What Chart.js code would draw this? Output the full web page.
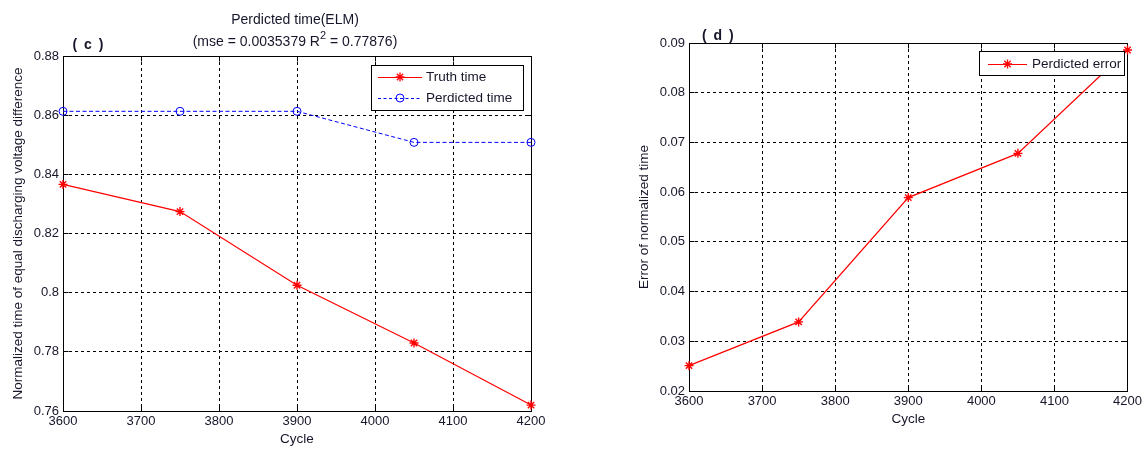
<!DOCTYPE html>
<html><head><meta charset="utf-8">
<script src="https://cdn.jsdelivr.net/npm/chart.js@4"></script>
<style>
html,body{margin:0;padding:0;background:#fff;}
#wrap{position:relative;width:1145px;height:450px;overflow:hidden;background:#fff;}
canvas{position:absolute;top:0;}
#c1{left:0;} #c2{left:580px;}
</style></head><body>
<div id="wrap"><canvas id="c1" width="560" height="450"></canvas><canvas id="c2" width="565" height="450"></canvas></div>
<script>
// ---- data ----
const cycles = [3600, 3750, 3900, 4050, 4200];
const truthTime = [0.8366, 0.8274, 0.8025, 0.7830, 0.7620];
const predictedTime = [0.8613, 0.8613, 0.8613, 0.8508, 0.8508];
const predictedError = [0.0251, 0.0339, 0.0589, 0.0678, 0.0886];
const xTicks = [3600, 3700, 3800, 3900, 4000, 4100, 4200];
const leftYTicks = [0.76, 0.78, 0.80, 0.82, 0.84, 0.86, 0.88];
const rightYTicks = [0.02, 0.03, 0.04, 0.05, 0.06, 0.07, 0.08, 0.09];

const FONT = "'Liberation Sans', Arial, Helvetica, sans-serif";
const TXT = '#16162a';
Chart.defaults.font.family = FONT;
Chart.defaults.color = TXT;

function pts(xs, ys){ return xs.map((x,i)=>({x:x, y:ys[i]})); }
function fmt(v){ return String(+v.toFixed(2)); }
function al(p){ return Math.round(p-0.5)+0.5; }

function drawMarker(ctx, style, x, y, color){
  ctx.save();
  ctx.strokeStyle = color; ctx.lineWidth = 1.3; ctx.setLineDash([]);
  ctx.beginPath();
  if (style === 'star') {
    const r = 4.5, d = r*0.7071;
    ctx.moveTo(x-r,y); ctx.lineTo(x+r,y);
    ctx.moveTo(x,y-r); ctx.lineTo(x,y+r);
    ctx.moveTo(x-d,y-d); ctx.lineTo(x+d,y+d);
    ctx.moveTo(x-d,y+d); ctx.lineTo(x+d,y-d);
  } else {
    ctx.lineWidth = 1;
    ctx.arc(x,y,4,0,Math.PI*2);
  }
  ctx.stroke();
  ctx.restore();
}

function decor(o){
  return {
    id: 'decor',
    beforeDatasetsDraw(chart){
      const {ctx, chartArea:a, scales:{x, y}} = chart;
      ctx.save();
      ctx.strokeStyle = '#000'; ctx.lineWidth = 1; ctx.setLineDash([]);
      const L = al(a.left), R = al(a.right), T = al(a.top), B = al(a.bottom);
      ctx.strokeRect(L, T, R-L, B-T);
      ctx.beginPath();
      o.xTicks.forEach(v=>{ const p = al(x.getPixelForValue(v)); ctx.moveTo(p,T); ctx.lineTo(p,T+5); ctx.moveTo(p,B); ctx.lineTo(p,B-5); });
      o.yTicks.forEach(v=>{ const p = al(y.getPixelForValue(v)); ctx.moveTo(L,p); ctx.lineTo(L+5,p); ctx.moveTo(R,p); ctx.lineTo(R-5,p); });
      ctx.stroke();
      ctx.restore();
    },
    afterDraw(chart){
      const {ctx, chartArea:a} = chart;
      const off = o.offset;
      ctx.save();
      ctx.fillStyle = TXT;
      ctx.textBaseline = 'middle';
      // panel label
      ctx.font = 'bold 14px ' + FONT;
      ctx.letterSpacing = '1.5px';
      ctx.textAlign = 'left';
      ctx.fillText(o.panel, o.panelX - off, o.panelY);
      ctx.letterSpacing = '0px';
      // title
      if (o.title) {
        ctx.font = '14px ' + FONT;
        ctx.textAlign = 'center';
        ctx.fillText(o.title[0], o.titleX - off, 20);
        const p1 = o.title[1], sup = o.title[2], p2 = o.title[3];
        ctx.font = '14px ' + FONT; const w1 = ctx.measureText(p1).width, w3 = ctx.measureText(p2).width;
        ctx.font = '11px ' + FONT; const w2 = ctx.measureText(sup).width;
        let sx = o.titleX - off - (w1+w2+w3)/2;
        ctx.textAlign = 'left';
        ctx.font = '14px ' + FONT; ctx.fillText(p1, sx, 42); sx += w1;
        ctx.font = '11px ' + FONT; ctx.fillText(sup, sx, 35.5); sx += w2;
        ctx.font = '14px ' + FONT; ctx.fillText(p2, sx, 42);
      }
      // axis titles
      ctx.font = '13.5px ' + FONT;
      ctx.textAlign = 'center';
      ctx.fillText(o.xTitle, (a.left+a.right)/2, o.xTitleY);
      ctx.save();
      ctx.translate(o.yTitleX - off, (a.top+a.bottom)/2);
      ctx.rotate(-Math.PI/2);
      ctx.fillText(o.yTitle, 0, 0);
      ctx.restore();
      // legend
      const lg = o.legend;
      ctx.fillStyle = '#fff';
      ctx.fillRect(lg.x1-off, lg.y1, lg.x2-lg.x1, lg.y2-lg.y1);
      ctx.strokeStyle = '#000'; ctx.lineWidth = 1; ctx.setLineDash([]);
      ctx.strokeRect(al(lg.x1-off), al(lg.y1), Math.round(lg.x2-lg.x1), Math.round(lg.y2-lg.y1));
      lg.items.forEach(it=>{
        ctx.save();
        ctx.strokeStyle = it.color; ctx.lineWidth = 1; ctx.setLineDash(it.dash || []);
        ctx.beginPath(); ctx.moveTo(lg.lx1-off, al(it.y)); ctx.lineTo(lg.lx2-off, al(it.y)); ctx.stroke();
        ctx.restore();
        drawMarker(ctx, it.style, (lg.lx1+lg.lx2)/2-off, it.y, it.color);
        ctx.fillStyle = TXT;
        ctx.font = '13.5px ' + FONT;
        ctx.textAlign = 'left';
        ctx.fillText(it.label, lg.tx-off, it.y);
      });
      ctx.restore();
    }
  };
}

function scalesCfg(yMin, yMax, yTicks, yWidth, xHeight){
  return {
    x: {
      type: 'linear', min: 3600, max: 4200,
      afterBuildTicks: s => { s.ticks = xTicks.map(v=>({value:v})); },
      afterFit: s => { s.height = xHeight; },
      grid: { color: '#000', lineWidth: 1, drawTicks: false },
      border: { display: false, dash: [3,3] },
      ticks: { padding: 3, font: { size: 13 }, color: TXT, maxRotation: 0, autoSkip: false, callback: v => String(v) }
    },
    y: {
      type: 'linear', min: yMin, max: yMax,
      afterBuildTicks: s => { s.ticks = yTicks.map(v=>({value:v})); },
      afterFit: s => { s.width = yWidth; },
      grid: { color: '#000', lineWidth: 1, drawTicks: false },
      border: { display: false, dash: [3,3] },
      ticks: { padding: 4, font: { size: 13 }, color: TXT, autoSkip: false, callback: v => fmt(v) }
    }
  };
}

new Chart(document.getElementById('c1'), {
  type: 'line',
  data: { datasets: [
    { label: 'Truth time', data: pts(cycles, truthTime), borderColor: '#ff0000', backgroundColor: '#ff0000',
      borderWidth: 1.2, pointStyle: 'star', pointRadius: 4.5, pointBorderWidth: 1.4, pointBorderColor: '#ff0000', clip: false, tension: 0 },
    { label: 'Perdicted time', data: pts(cycles, predictedTime), borderColor: '#0000ff', backgroundColor: 'rgba(0,0,0,0)',
      borderWidth: 1, borderDash: [4,2.5], pointStyle: 'circle', pointRadius: 4, pointBorderWidth: 1, pointBorderColor: '#0000ff',
      pointBackgroundColor: 'rgba(0,0,0,0)', clip: false, tension: 0 }
  ]},
  options: {
    responsive: false, animation: false, events: [],
    layout: { padding: { top: 56, right: 29, left: 0, bottom: 0 } },
    plugins: { legend: { display: false }, tooltip: { enabled: false }, title: { display: false } },
    scales: scalesCfg(0.76, 0.88, leftYTicks, 63, 39)
  },
  plugins: [decor({
    offset: 0, xTicks: xTicks, yTicks: leftYTicks,
    panel: '( c )', panelX: 72.5, panelY: 45,
    title: ['Perdicted time(ELM)', '(mse = 0.0035379 R', '2', ' = 0.77876)'], titleX: 295,
    xTitle: 'Cycle', xTitleY: 439,
    yTitle: 'Normalized time of equal discharging voltage difference', yTitleX: 18.5,
    legend: { x1: 371, y1: 65, x2: 523, y2: 110, lx1: 378, lx2: 422, tx: 426, items: [
      { label: 'Truth time', color: '#ff0000', style: 'star', y: 77 },
      { label: 'Perdicted time', color: '#0000ff', style: 'circle', dash: [3,2.5], y: 98 }
    ]}
  })]
});

new Chart(document.getElementById('c2'), {
  type: 'line',
  data: { datasets: [
    { label: 'Perdicted error', data: pts(cycles, predictedError), borderColor: '#ff0000', backgroundColor: '#ff0000',
      borderWidth: 1.2, pointStyle: 'star', pointRadius: 4.5, pointBorderWidth: 1.4, pointBorderColor: '#ff0000', clip: false, tension: 0 }
  ]},
  options: {
    responsive: false, animation: false, events: [],
    layout: { padding: { top: 43, right: 16, left: 0, bottom: 0 } },
    plugins: { legend: { display: false }, tooltip: { enabled: false }, title: { display: false } },
    scales: scalesCfg(0.02, 0.09, rightYTicks, 109, 59)
  },
  plugins: [decor({
    offset: 580, xTicks: xTicks, yTicks: rightYTicks,
    panel: '( d )', panelX: 702, panelY: 36,
    title: null,
    xTitle: 'Cycle', xTitleY: 419,
    yTitle: 'Error of normalized time', yTitleX: 644,
    legend: { x1: 979, y1: 51, x2: 1124, y2: 75, lx1: 988, lx2: 1027, tx: 1032, items: [
      { label: 'Perdicted error', color: '#ff0000', style: 'star', y: 64 }
    ]}
  })]
});
</script>
</body></html>
